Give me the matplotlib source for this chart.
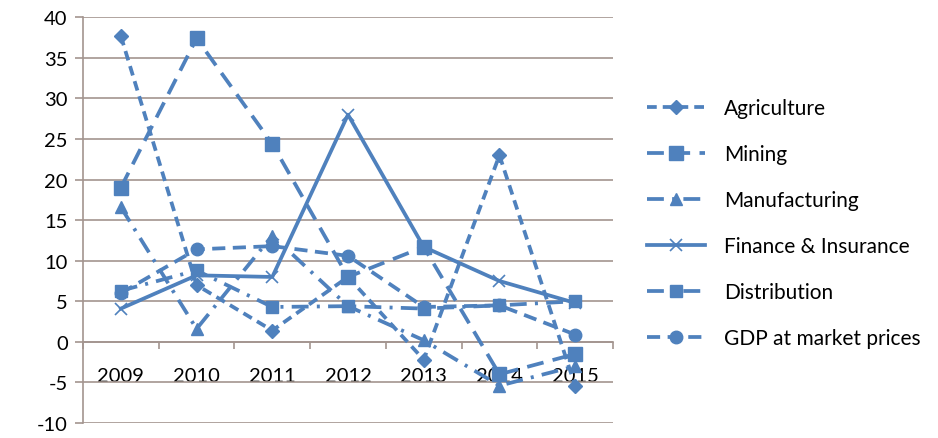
import matplotlib
matplotlib.use("Agg")
import matplotlib.pyplot as plt
from matplotlib.ticker import FixedLocator

years = ["2009", "2010", "2011", "2012", "2013", "2014", "2015"]
agriculture = [37.7, 7.0, 1.4, 8.0, -2.2, 23.0, -5.4]
mining = [19.0, 37.4, 24.4, 8.0, 11.7, -4.0, -1.5]
manufacturing = [16.6, 1.6, 13.1, 4.4, 0.2, -5.4, -3.0]
finance = [4.1, 8.2, 8.0, 28.0, 11.7, 7.5, 4.8]
distribution = [6.3, 8.8, 4.3, 4.4, 4.1, 4.5, 5.0]
gdp = [6.0, 11.4, 11.8, 10.6, 4.3, 4.5, 0.9]

series_names = ["Agriculture", "Mining", "Manufacturing", "Finance & Insurance",
                "Distribution", "GDP at market prices"]
y_ticks = list(range(-10, 45, 5))

plt.rcParams['font.family'] = ['Lato', 'DejaVu Sans']

color = '#4F81BD'
grid_color = '#a3958f'

fig = plt.figure(figsize=(9.38, 4.39), dpi=100)
ax = fig.add_axes([83/938, 1 - 424/439, 530/938, (424 - 18.3)/439])

x = list(range(len(years)))
styles = [
    dict(marker='D', ms=7, dashes=(2.6, 1.6)),
    dict(marker='s', ms=10, dashes=(4.5, 2.5)),
    dict(marker='^', ms=9, dashes=(4.5, 2.2, 0.8, 2.2)),
    dict(marker='x', ms=9, mew=1.2, dashes=None),
    dict(marker='s', ms=9, dashes=(4.5, 2.2, 0.8, 2.2)),
    dict(marker='o', ms=9, dashes=(3.5, 2.0)),
]
data = [agriculture, mining, manufacturing, finance, distribution, gdp]
handles = []
for vals, name, st in zip(data, series_names, styles):
    kw = dict(color=color, lw=2.7, marker=st['marker'], ms=st['ms'],
              mfc=color, mec=color, label=name, zorder=3)
    if 'mew' in st:
        kw['mew'] = st['mew']
    line, = ax.plot(x, vals, **kw)
    if st['dashes'] is not None:
        line.set_dashes(st['dashes'])
    handles.append(line)

ax.set_xlim(-0.5, len(years) - 0.5)
ax.set_ylim(-10, 40)
ax.set_yticks(y_ticks)
ax.set_yticklabels([str(v) for v in y_ticks], fontsize=14.5)
ax.yaxis.grid(True, color=grid_color, lw=1.2, zorder=0)
ax.set_axisbelow(True)

ax.spines['top'].set_visible(False)
ax.spines['right'].set_visible(False)
ax.spines['left'].set_color(grid_color)
ax.spines['bottom'].set_position(('data', 0))
ax.spines['bottom'].set_color(grid_color)
ax.spines['bottom'].set_linewidth(1.2)
ax.spines['left'].set_linewidth(1.2)

ax.set_xticks(x)
ax.set_xticklabels(years, fontsize=14.5)
ax.tick_params(axis='x', which='major', length=0, pad=18)
ax.xaxis.set_minor_locator(FixedLocator([i - 0.5 for i in range(len(years) + 1)]))
ax.tick_params(axis='x', which='minor', length=5, color=grid_color, width=1.2, direction='out')
ax.tick_params(axis='y', length=6, color=grid_color, width=1.2, pad=5)

leg = fig.legend(handles=handles, loc='upper left', bbox_to_anchor=(647/938, 1 - 99/439),
                 frameon=False, fontsize=15, handlelength=2.8, handletextpad=0.9,
                 labelspacing=1.25, borderaxespad=0, borderpad=0)

fig.savefig("out.png", dpi=100, facecolor='white')
